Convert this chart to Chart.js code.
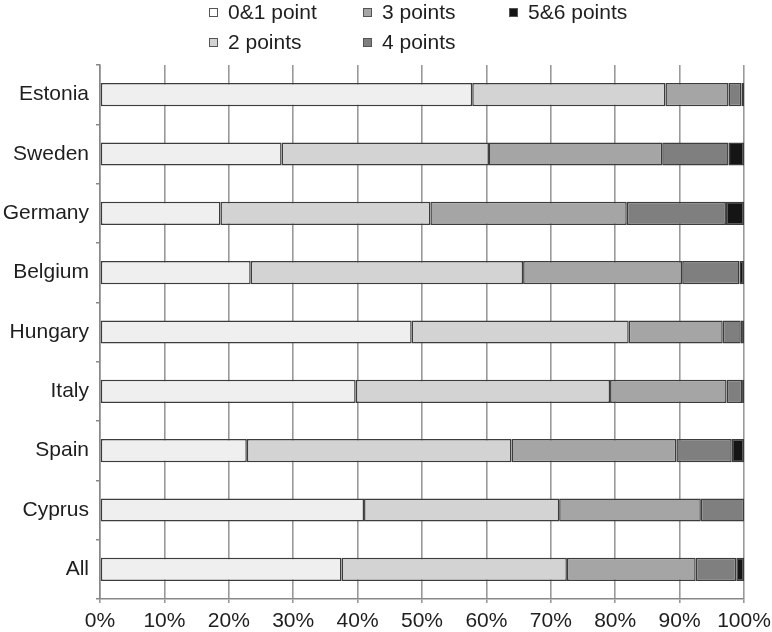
<!DOCTYPE html>
<html>
<head>
<meta charset="utf-8">
<script src="https://cdn.jsdelivr.net/npm/chart.js@4"></script>
<style>
  html, body { margin: 0; padding: 0; background: #fff; }
  #wrap { position: relative; width: 772px; height: 632px; }
  #leyenda {
    position: absolute; left: 209px; top: -3px;
    display: grid; grid-auto-flow: column;
    grid-template-rows: 30px 30px; grid-template-columns: 154px 146px 200px;
    font-family: "Liberation Sans", Arial, sans-serif; font-size: 21px; color: #1e1e1e;
  }
  .item { display: flex; align-items: center; line-height: 30px; }
  .caja { width: 7px; height: 7px; border: 1px solid #555; margin-right: 10px; }
</style>
</head>
<body>
<div id="wrap">
  <canvas id="misBarras" width="772" height="632"></canvas>
  <div id="leyenda"></div>
</div>
<script>
const PAISES = ["Estonia", "Sweden", "Germany", "Belgium", "Hungary", "Italy", "Spain", "Cyprus", "All"];
const SERIES = ["0&1 point", "2 points", "3 points", "4 points", "5&6 points"];
const P01 = [57.8, 28.2, 18.7, 23.4, 48.4, 39.7, 22.8, 41.0, 37.5];
const P2  = [30.0, 32.2, 32.6, 42.3, 33.7, 39.5, 41.1, 30.3, 35.0];
const P3  = [9.8, 26.9, 30.5, 24.7, 14.6, 18.1, 25.6, 22.0, 20.0];
const P4  = [2.0, 10.3, 15.4, 8.9, 2.8, 2.4, 8.6, 6.7, 6.3];
const P56 = [0.4, 2.4, 2.8, 0.7, 0.5, 0.3, 1.9, 0, 1.2];
const COLORES = ["#efefef", "#d3d3d3", "#a5a5a5", "#7f7f7f", "#151515"];

const VALORES = [P01, P2, P3, P4, P56];
const FUENTE = "'Liberation Sans', Arial, sans-serif";

// leyenda en columnas, como el original
const LEY = document.getElementById("leyenda");
SERIES.forEach((nombre, i) => {
    const d = document.createElement("div");
    d.className = "item";
    d.innerHTML = '<span class="caja" style="background:' + (i == 0 ? "#fff" : COLORES[i]) + '"></span>' + nombre;
    LEY.appendChild(d);
});

new Chart(document.getElementById("misBarras"), {
    type: "bar",
    data: {
        labels: PAISES,
        datasets: SERIES.map((nombre, i) => ({
            label: nombre,
            data: VALORES[i],
            backgroundColor: COLORES[i],
            borderColor: "#3c3c3c",
            borderWidth: 1.5,
            borderSkipped: false,
            barPercentage: 0.39,
            categoryPercentage: 1
        }))
    },
    options: {
        indexAxis: "y",
        responsive: false,
        animation: false,
        layout: { padding: { top: 65, right: 0, bottom: 0, left: 0 } },
        plugins: { legend: { display: false }, tooltip: { enabled: false } },
        scales: {
            x: {
                stacked: true, min: 0, max: 100,
                ticks: { stepSize: 10, callback: v => v + "%", color: "#1e1e1e", font: { family: FUENTE, size: 21 }, padding: 6 },
                grid: { color: "#999", lineWidth: 1.6, tickLength: 4 },
                border: { color: "#888", width: 1.5 },
                afterFit: s => { s.height = 33; s.paddingRight = 28; s.paddingLeft = 0; }
            },
            y: {
                stacked: true,
                ticks: { color: "#1e1e1e", font: { family: FUENTE, size: 21 }, padding: 7 },
                grid: { drawOnChartArea: false, offset: true, color: "#888", lineWidth: 1.5, tickLength: 4 },
                border: { color: "#888", width: 1.5 },
                afterFit: s => { s.width = 100; }
            }
        }
    }
});
</script>
</body>
</html>
